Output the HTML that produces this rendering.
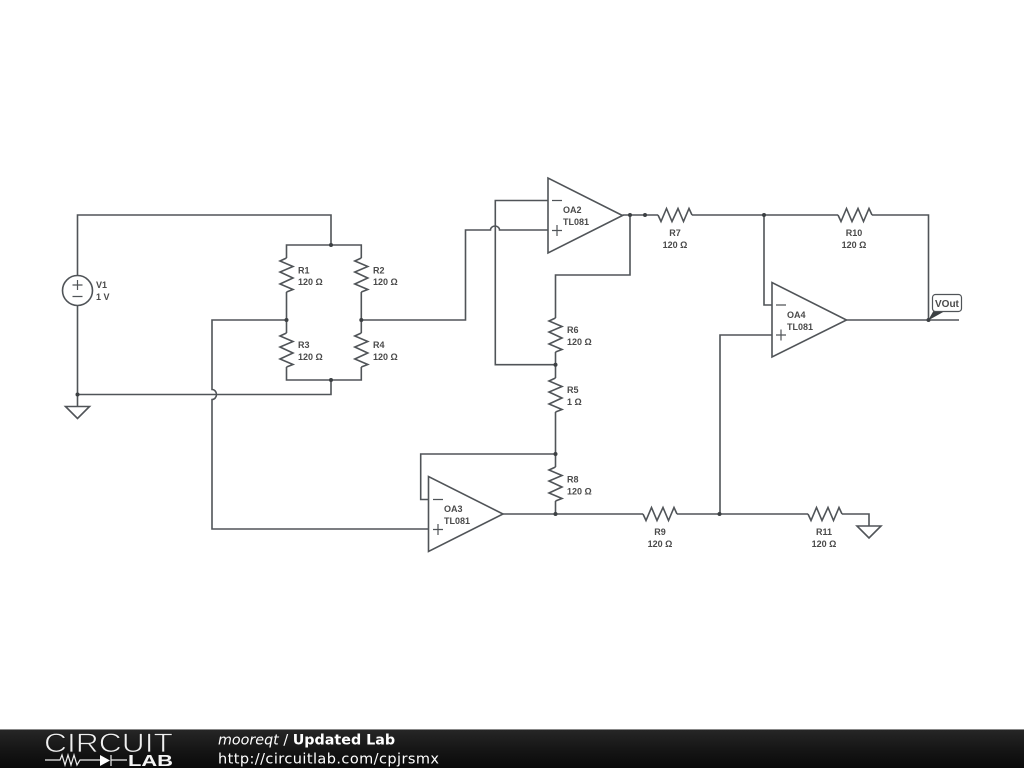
<!DOCTYPE html>
<html>
<head>
<meta charset="utf-8">
<style>
html,body{margin:0;padding:0;background:#fff;width:1024px;height:768px;overflow:hidden}
svg{display:block}
.w{fill:none;stroke:#505458;stroke-width:1.6;stroke-linejoin:miter}
.t{font-family:"Liberation Sans",sans-serif;font-size:9px;font-weight:bold;fill:#4a4a4a}
.n{fill:#3c4043}
</style>
</head>
<body>
<svg width="1024" height="768" viewBox="0 0 1024 768" xmlns="http://www.w3.org/2000/svg">
<defs>
<linearGradient id="bar" x1="0" y1="0" x2="0" y2="1">
<stop offset="0" stop-color="#262626"/><stop offset="0.5" stop-color="#161616"/><stop offset="1" stop-color="#0a0a0a"/>
</linearGradient>
<path id="rv" d="M0,-17 L-6.500,-14 L6.500,-8.500 L-6.500,-3 L6.500,3 L-6.500,9 L6.500,14.500 L0,17"/>
<path id="rh" d="M-17,0 L-14,6.500 L-8.500,-6.500 L-3,6.500 L3,-6.500 L8.500,6.500 L14,-6.500 L17,0"/>
</defs>
<rect width="1024" height="768" fill="#fff"/>

<g class="w">
<!-- V1 and bridge -->
<path d="M77.5,275.5 V215 H331 V245"/>
<path d="M77.5,305.5 V406.5"/>
<circle cx="77.5" cy="290.5" r="15"/>
<path d="M72.5,285 H82.5 M77.5,280 V290 M72.5,296.500 H82.5" stroke-width="1.2"/>
<path d="M65.5,406.5 H89.5 L77.5,418.5 Z"/>
<path d="M77.5,394.5 H331 V380"/>
<path d="M286.5,258 V245 H361.3 V258"/>
<path d="M286.5,292 V333"/>
<path d="M361.3,292 V333"/>
<path d="M286.5,367 V380 H361.3 V367"/>
<path d="M286.5,320 H212 V389.5 A4.500,5 0 0 1 212,399.5 V529 H428"/>
<path d="M361.3,320 H465.5 V230 H490.500 A4.500,4 0 0 1 499.500,230 H548"/>
<use href="#rv" x="286.5" y="275"/>
<use href="#rv" x="361.3" y="275"/>
<use href="#rv" x="286.5" y="350"/>
<use href="#rv" x="361.3" y="350"/>

<!-- OA2 -->
<path d="M548,178 V253 L622.5,215.5 Z"/>
<path d="M548,200.5 H495.3 V364.7 H555.5"/>
<path d="M552,200.5 H562 M552,230.5 H562 M557,225 V236" stroke-width="1.2"/>
<path d="M622.5,215 H658"/>
<path d="M630,215 V275 H555.5 V318"/>
<use href="#rv" x="555.5" y="335"/>
<path d="M555.5,352 V378"/>
<use href="#rv" x="555.5" y="395"/>
<path d="M555.5,412 V467"/>
<use href="#rv" x="555.5" y="484"/>
<path d="M555.5,501 V514"/>
<use href="#rh" x="675" y="215"/>
<path d="M692,215 H838"/>
<use href="#rh" x="855" y="215"/>
<path d="M872,215 H928.5 V320"/>

<!-- OA3 -->
<path d="M428.5,476.5 V551.5 L503,514 Z"/>
<path d="M555.5,454 H420.7 V499.5 H428.5"/>
<path d="M433,499.5 H443 M433,529.5 H443 M438,524 V535" stroke-width="1.2"/>
<path d="M503,514 H643"/>
<use href="#rh" x="660" y="514"/>
<path d="M677,514 H808"/>
<use href="#rh" x="825" y="514"/>
<path d="M842,514 H869 V526"/>
<path d="M857,526 H881 L869,538 Z"/>

<!-- OA4 -->
<path d="M772,282.5 V357 L846.5,320 Z"/>
<path d="M764,215 V305 H772"/>
<path d="M720,514 V335 H772"/>
<path d="M776,305 H786 M776,335 H786 M781,329.5 V340.5" stroke-width="1.2"/>
<path d="M846.5,320 H959"/>
</g>

<!-- nodes -->
<g class="n">
<circle cx="331" cy="245" r="2"/><circle cx="331" cy="380" r="2"/>
<circle cx="77.5" cy="394.5" r="2"/><circle cx="286.5" cy="320" r="2"/>
<circle cx="361.3" cy="320" r="2"/><circle cx="630" cy="215" r="2"/>
<circle cx="645" cy="215" r="2"/><circle cx="764" cy="215" r="2"/>
<circle cx="555.5" cy="364.7" r="2"/><circle cx="555.5" cy="454" r="2"/>
<circle cx="555.5" cy="514" r="2"/><circle cx="719.5" cy="514" r="2"/>
<circle cx="928.5" cy="320" r="2"/>
</g>

<!-- VOut tag -->
<path d="M928,320.5 L934,310 L945,311 Z" fill="#3c4043"/>
<rect x="932.5" y="294.5" width="29" height="17" rx="3" ry="3" fill="#fff" stroke="#505458" stroke-width="1.2"/>
<text class="t" x="935" y="307" style="font-size:10px">VOut</text>

<!-- labels -->
<g class="t">
<text x="96" y="288">V1</text><text x="96" y="300">1 V</text>
<text x="298" y="273.500">R1</text><text x="298" y="285">120 Ω</text>
<text x="373" y="273.500">R2</text><text x="373" y="285">120 Ω</text>
<text x="298" y="348">R3</text><text x="298" y="360">120 Ω</text>
<text x="373" y="348">R4</text><text x="373" y="360">120 Ω</text>
<text x="563" y="213">OA2</text><text x="563" y="225">TL081</text>
<text x="444" y="512">OA3</text><text x="444" y="524">TL081</text>
<text x="787" y="318">OA4</text><text x="787" y="330">TL081</text>
<text x="567" y="333">R6</text><text x="567" y="345">120 Ω</text>
<text x="567" y="393">R5</text><text x="567" y="405">1 Ω</text>
<text x="567" y="482.500">R8</text><text x="567" y="494.500">120 Ω</text>
<text x="675" y="236" text-anchor="middle">R7</text><text x="675" y="248" text-anchor="middle">120 Ω</text>
<text x="854" y="236" text-anchor="middle">R10</text><text x="854" y="248" text-anchor="middle">120 Ω</text>
<text x="660" y="535" text-anchor="middle">R9</text><text x="660" y="547" text-anchor="middle">120 Ω</text>
<text x="824" y="535" text-anchor="middle">R11</text><text x="824" y="547" text-anchor="middle">120 Ω</text>
</g>

<!-- footer -->
<rect x="0" y="729" width="1024" height="1" fill="#888"/>
<rect x="0" y="730" width="1024" height="38" fill="url(#bar)"/>
<text x="44" y="752" font-family="'Liberation Sans',sans-serif" font-size="27" fill="#f0f0f0" stroke="#1a1a1a" stroke-width="0.8" paint-order="fill" textLength="129" lengthAdjust="spacingAndGlyphs">CIRCUIT</text>
<path d="M45,760 H60 L62,755 L65,765 L68,755 L71,765 L74,755 L77,765 L80,760 H100 M111,755 V766 M111,760 H127" fill="none" stroke="#eee" stroke-width="1.2"/>
<path d="M100,755 L110,760.500 L100,766 Z" fill="#fff"/>
<text x="128" y="766" font-family="'Liberation Sans',sans-serif" font-size="15.500" font-weight="bold" fill="#f5f5f5" textLength="45" lengthAdjust="spacingAndGlyphs">LAB</text>
<text x="218" y="744.500" font-family="'DejaVu Sans',sans-serif" font-size="14.300" fill="#fff"><tspan font-style="italic">mooreqt</tspan> / <tspan font-weight="bold">Updated Lab</tspan></text>
<text x="218" y="763.500" font-family="'DejaVu Sans',sans-serif" font-size="14.500" fill="#fff" textLength="221" lengthAdjust="spacing">http://circuitlab.com/cpjrsmx</text>
</svg>
</body>
</html>
